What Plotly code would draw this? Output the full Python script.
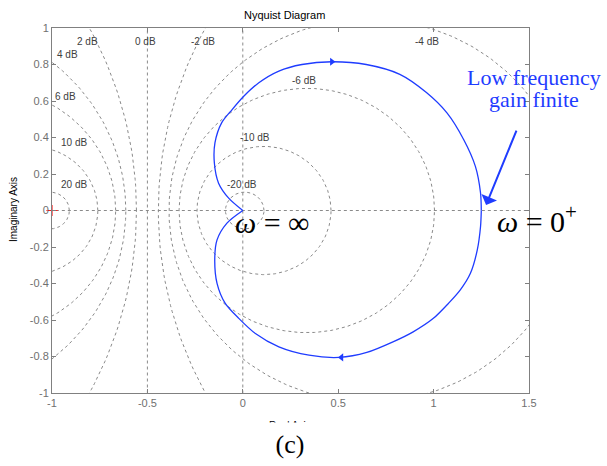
import numpy as np
import plotly.graph_objects as go

# ---- data ----
# Nyquist curve, lower branch: from omega=0+ (1.25, 0) to the origin (omega=inf)
curve_lower_x = [1.250, 1.246, 1.229, 1.193, 1.140, 1.078, 0.999, 0.893, 0.787, 0.650, 0.505, 0.347, 0.189, 0.066, -0.021, -0.092, -0.135, -0.147, -0.135, -0.083, 0.0]
curve_lower_y = [0.0, -0.088, -0.216, -0.344, -0.435, -0.509, -0.591, -0.665, -0.720, -0.778, -0.805, -0.793, -0.747, -0.674, -0.591, -0.509, -0.399, -0.271, -0.161, -0.069, 0.0]
# upper branch: from the origin back to (1.25, 0)
curve_upper_x = [0.0, -0.074, -0.127, -0.149, -0.146, -0.111, -0.056, 0.005, 0.084, 0.189, 0.310, 0.467, 0.647, 0.823, 0.964, 1.070, 1.158, 1.219, 1.246, 1.250]
curve_upper_y = [0.0, 0.068, 0.150, 0.260, 0.370, 0.480, 0.553, 0.626, 0.700, 0.764, 0.800, 0.815, 0.800, 0.746, 0.645, 0.535, 0.388, 0.242, 0.096, 0.0]

arrow_up = (0.467, 0.815)
arrow_down = (0.517, -0.805)

# constant closed-loop magnitude contours (dB)
m_db = [20, 10, 6, 4, 2, 0, -2, -4, -6, -10, -20]
m_labels = ["20 dB", "10 dB", "6 dB", "4 dB", "2 dB", "0 dB", "-2 dB", "-4 dB", "-6 dB", "-10 dB", "-20 dB"]
m_label_x = [-0.884, -0.884, -0.927, -0.918, -0.814, -0.508, -0.211, 0.968, 0.32, 0.063, -0.002]
m_label_y = [0.145, 0.374, 0.623, 0.855, 0.928, 0.928, 0.928, 0.928, 0.71, 0.398, 0.145]

x_ticks = [-1, -0.5, 0, 0.5, 1, 1.5]
x_tick_text = ["-1", "-0.5", "0", "0.5", "1", "1.5"]
y_ticks = [-1, -0.8, -0.6, -0.4, -0.2, 0, 0.2, 0.4, 0.6, 0.8, 1]
y_tick_text = ["-1", "-0.8", "-0.6", "-0.4", "-0.2", "0", "0.2", "0.4", "0.6", "0.8", "1"]

GRID = "#8a8a8a"
AX = "#808080"
BLUE = "#1f3cff"

# plot area in pixels (for placing free text)
PL, PR, PT, PB = 52, 529, 28, 393


def pp(xp, yp):
    return (xp - PL) / (PR - PL), (PB - yp) / (PB - PT)


fig = go.Figure()

# M-circles
t = np.linspace(0, 2 * np.pi, 400)
for db in m_db:
    if db == 0:
        fig.add_trace(go.Scatter(x=[-0.5, -0.5], y=[-1.2, 1.2], mode="lines",
                                 line=dict(color=GRID, width=1, dash="dot"), hoverinfo="skip", showlegend=False))
        continue
    M = 10 ** (db / 20)
    c = -M**2 / (M**2 - 1)
    r = abs(M / (M**2 - 1))
    fig.add_trace(go.Scatter(x=c + r * np.cos(t), y=r * np.sin(t), mode="lines",
                             line=dict(color=GRID, width=1, dash="dot"), hoverinfo="skip", showlegend=False))

# real and imaginary axis lines
fig.add_trace(go.Scatter(x=[-1.2, 1.7], y=[0, 0], mode="lines",
                         line=dict(color=GRID, width=1, dash="dot"), hoverinfo="skip", showlegend=False))
fig.add_trace(go.Scatter(x=[0, 0], y=[-1.2, 1.2], mode="lines",
                         line=dict(color=GRID, width=1, dash="dot"), hoverinfo="skip", showlegend=False))

# Nyquist curve
for cx, cy in ((curve_lower_x, curve_lower_y), (curve_upper_x, curve_upper_y)):
    fig.add_trace(go.Scatter(x=cx, y=cy, mode="lines",
                             line=dict(color=BLUE, width=1.3, shape="spline", smoothing=0.8),
                             showlegend=False))
fig.add_trace(go.Scatter(x=[arrow_up[0]], y=[arrow_up[1]], mode="markers",
                         marker=dict(symbol="triangle-right", size=7, color=BLUE), showlegend=False))
fig.add_trace(go.Scatter(x=[arrow_down[0]], y=[arrow_down[1]], mode="markers",
                         marker=dict(symbol="triangle-left", size=7, color=BLUE), showlegend=False))

# critical point
fig.add_trace(go.Scatter(x=[-1], y=[0], mode="markers", cliponaxis=False,
                         marker=dict(symbol="cross-thin", size=8, line=dict(color="#ff2020", width=1.2)),
                         showlegend=False))

annotations = []
for lab, lx, ly in zip(m_labels, m_label_x, m_label_y):
    annotations.append(dict(x=lx, y=ly, xref="x", yref="y", text=lab, showarrow=False,
                            xanchor="center", yanchor="middle",
                            font=dict(family="Liberation Sans, Arial", size=10, color="#404040")))


def txt(xp, yp, text, **kw):
    x, y = pp(xp, yp)
    d = dict(x=x, y=y, xref="paper", yref="paper", text=text, showarrow=False,
             xanchor="center", yanchor="middle")
    d.update(kw)
    annotations.append(d)


SANS = "Liberation Sans, Arial"
SERIF = "Liberation Serif, Times New Roman"

txt(284, 15, "Nyquist Diagram", font=dict(family=SANS, size=11, color="black"))
txt(14, 210, "Imaginary Axis", textangle=-90, font=dict(family=SANS, size=10, color="black"))
txt(290, 425, "Real Axis", font=dict(family=SANS, size=10, color="black"))
# white band that hides the lower part of "Real Axis", with the (c) caption
txt(290, 444, "(c)", width=300, height=40, bgcolor="white", valign="middle",
    font=dict(family=SERIF, size=26, color="black"))

txt(272, 222, "<i>ω</i> = ∞", font=dict(family=SERIF, size=30, color="black"))
txt(537, 219, "<i>ω</i> = 0<sup>+</sup>", font=dict(family=SERIF, size=30, color="black"))
txt(534, 77, "Low frequency", font=dict(family=SERIF, size=22, color=BLUE))
txt(534, 100, "gain finite", font=dict(family=SERIF, size=22, color=BLUE))

annotations.append(dict(x=1.275, y=0.03, xref="x", yref="y", ax=31, ay=-76, axref="pixel", ayref="pixel",
                        text="", showarrow=True, arrowhead=1, arrowsize=1.4, arrowwidth=2, arrowcolor=BLUE))

fig.update_layout(
    width=607, height=466,
    margin=dict(l=PL, r=607 - PR, t=PT, b=466 - PB),
    paper_bgcolor="white", plot_bgcolor="white",
    annotations=annotations,
    xaxis=dict(range=[-1, 1.5], tickvals=x_ticks, ticktext=x_tick_text, showgrid=False, zeroline=False,
               showline=True, linecolor=AX, linewidth=1, mirror="ticks", ticks="inside", ticklen=4,
               tickcolor=AX, tickfont=dict(family=SANS, size=11, color="#707070")),
    yaxis=dict(range=[-1, 1], tickvals=y_ticks, ticktext=y_tick_text, showgrid=False, zeroline=False,
               showline=True, linecolor=AX, linewidth=1, mirror="ticks", ticks="inside", ticklen=4,
               tickcolor=AX, tickfont=dict(family=SANS, size=11, color="#707070")),
)

fig.write_html("out.html")
